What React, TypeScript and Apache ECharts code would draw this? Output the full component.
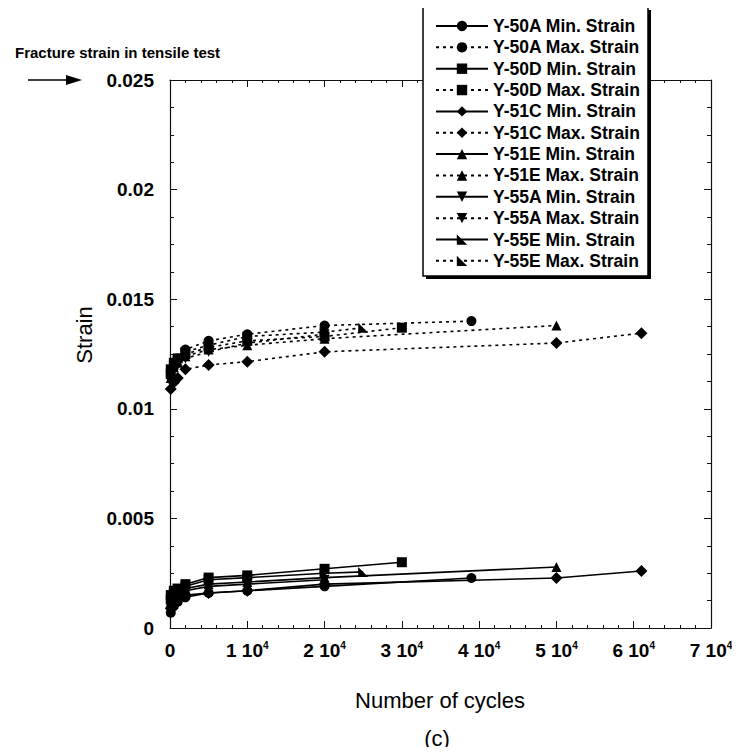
import React, { useEffect, useRef } from "react";
import * as echarts from "echarts";

const cyclesA = [100, 500, 1000, 2000, 5000, 10000, 20000, 39000];
const minA = [0.0007, 0.001, 0.0012, 0.0014, 0.0016, 0.0017, 0.0019, 0.00228];
const maxA = [0.0115, 0.012, 0.0123, 0.0127, 0.0131, 0.0134, 0.0138, 0.014];

const cyclesD = [100, 500, 1000, 2000, 5000, 10000, 20000, 30000];
const minD = [0.0015, 0.0017, 0.0018, 0.002, 0.0023, 0.0024, 0.0027, 0.003];
const maxD = [0.0118, 0.0121, 0.0123, 0.0125, 0.0128, 0.0131, 0.0133, 0.0137];

const cyclesC = [100, 500, 1000, 2000, 5000, 10000, 20000, 50000, 61000];
const minC = [0.0009, 0.0012, 0.0013, 0.0015, 0.0016, 0.0017, 0.002, 0.00228, 0.0026];
const maxC = [0.0109, 0.0112, 0.0114, 0.0118, 0.012, 0.01215, 0.0126, 0.013, 0.01345];

const cyclesE = [100, 500, 1000, 2000, 5000, 10000, 20000, 50000];
const minE = [0.0012, 0.0015, 0.0016, 0.0018, 0.002, 0.0021, 0.0023, 0.00278];
const maxE = [0.0114, 0.0119, 0.0121, 0.0124, 0.0127, 0.0129, 0.0132, 0.0138];

const cycles55A = [100, 500, 1000, 2000, 5000, 10000, 20000];
const min55A = [0.0011, 0.0014, 0.0015, 0.0017, 0.0019, 0.002, 0.0022];
const max55A = [0.0112, 0.0118, 0.012, 0.0123, 0.0126, 0.013, 0.0134];

const cycles55E = [100, 500, 1000, 2000, 5000, 10000, 20000, 25000];
const min55E = [0.0013, 0.0016, 0.0018, 0.0019, 0.0022, 0.0023, 0.0025, 0.00256];
const max55E = [0.0116, 0.012, 0.0122, 0.0126, 0.0129, 0.0133, 0.0135, 0.0137];

const specimens = [
  { id: "Y-50A", cycles: cyclesA, min: minA, max: maxA, symbol: "circle", rotate: 0 },
  { id: "Y-50D", cycles: cyclesD, min: minD, max: maxD, symbol: "rect", rotate: 0 },
  { id: "Y-51C", cycles: cyclesC, min: minC, max: maxC, symbol: "diamond", rotate: 0 },
  { id: "Y-51E", cycles: cyclesE, min: minE, max: maxE, symbol: "triangle", rotate: 0 },
  { id: "Y-55A", cycles: cycles55A, min: min55A, max: max55A, symbol: "triangle", rotate: 180 },
  { id: "Y-55E", cycles: cycles55E, min: min55E, max: max55E, symbol: "path://M0,0L10,10L0,10Z", rotate: 0 },
];

const FONT = "Liberation Sans, Arial, Helvetica, sans-serif";

export default function App() {
  const ref = useRef<HTMLDivElement>(null);
  useEffect(() => {
    if (!ref.current) return;
    const chart = echarts.init(ref.current, null, { renderer: "svg" });
    const series: any[] = [];
    const legendData: string[] = [];
    specimens.forEach((s) => {
      (["Min", "Max"] as const).forEach((kind) => {
        const name = `${s.id} ${kind}. Strain`;
        legendData.push(name);
        const ys = kind === "Min" ? s.min : s.max;
        series.push({
          name,
          type: "line",
          data: s.cycles.map((c, i) => [c, ys[i]]),
          symbol: s.symbol,
          symbolRotate: s.rotate,
          symbolSize: s.symbol === "diamond" ? 12 : 10,
          showSymbol: true,
          lineStyle: { color: "#000", width: 1.6, type: kind === "Min" ? "solid" : [3, 4] },
          itemStyle: { color: "#000", borderWidth: 0 },
          emphasis: { disabled: true },
          z: 3,
        });
      });
    });

    const axisLineStyle = { color: "#111", width: 1.2 };
    const tickStyle = { color: "#111", width: 1 };
    const xCommon = {
      type: "value",
      min: 0,
      max: 70000,
      interval: 10000,
      axisLine: { show: true, onZero: false, lineStyle: axisLineStyle },
      axisTick: { show: true, inside: true, length: 7, lineStyle: tickStyle },
      minorTick: { show: true, splitNumber: 5, length: 3, lineStyle: tickStyle },
      splitLine: { show: false },
    };
    const yCommon = {
      type: "value",
      min: 0,
      max: 0.025,
      interval: 0.005,
      axisLine: { show: true, onZero: false, lineStyle: axisLineStyle },
      axisTick: { show: true, inside: true, length: 7, lineStyle: tickStyle },
      minorTick: { show: true, splitNumber: 4, length: 4, lineStyle: tickStyle },
      splitLine: { show: false },
    };

    chart.setOption({
      animation: false,
      backgroundColor: "#fff",
      grid: { left: 170, right: 29, top: 80, bottom: 127, containLabel: false },
      xAxis: [
        {
          ...xCommon,
          position: "bottom",
          axisLabel: {
            margin: 12,
            color: "#000",
            formatter: (v: number) =>
              v === 0 ? "{n|0}" : `{n|${v / 10000} 10}{s|4}`,
            rich: {
              n: { fontSize: 19, fontWeight: "bold", fontFamily: FONT, color: "#000", lineHeight: 20 },
              s: { fontSize: 10, fontWeight: "bold", fontFamily: FONT, color: "#000", verticalAlign: "top", lineHeight: 10 },
            },
          },
        },
        { ...xCommon, position: "top", axisLabel: { show: false } },
      ],
      yAxis: [
        {
          ...yCommon,
          position: "left",
          axisLabel: {
            margin: 16,
            color: "#000",
            fontSize: 19,
            fontWeight: "bold",
            fontFamily: FONT,
            formatter: (v: number) => String(parseFloat(v.toFixed(4))),
          },
        },
        { ...yCommon, position: "right", axisLabel: { show: false } },
      ],
      legend: {
        data: legendData,
        orient: "vertical",
        left: 435,
        top: 17,
        padding: 0,
        itemWidth: 52,
        itemHeight: 13,
        itemGap: 3.35,
        selectedMode: false,
        textStyle: { fontSize: 17.5, fontWeight: "bold", fontFamily: FONT, color: "#000", lineHeight: 17, padding: [0, 0, 0, 0] },
        z: 10,
      },
      graphic: [
        { type: "rect", z: 5, shape: { x: 426, y: 10, width: 225, height: 269 }, style: { fill: "#000" } },
        { type: "rect", z: 6, shape: { x: 423, y: 7, width: 225, height: 269 }, style: { fill: "#fff", stroke: "#000", lineWidth: 1.5 } },
        {
          type: "text",
          left: 15,
          top: 45,
          style: { text: "Fracture strain in tensile test", fontSize: 15, fontWeight: "bold", fontFamily: FONT, fill: "#000" },
        },
        { type: "line", shape: { x1: 28, y1: 80, x2: 70, y2: 80 }, style: { stroke: "#000", lineWidth: 1.5 } },
        { type: "polygon", shape: { points: [[66, 75], [82, 80], [66, 85]] }, style: { fill: "#000" } },
        {
          type: "text",
          x: 440,
          y: 700,
          style: { text: "Number of cycles", fontSize: 22, fontFamily: FONT, fill: "#000", align: "center", verticalAlign: "middle" },
        },
        {
          type: "text",
          x: 437,
          y: 738,
          style: { text: "(c)", fontSize: 22, fontFamily: FONT, fill: "#000", align: "center", verticalAlign: "middle" },
        },
        {
          type: "text",
          x: 95,
          y: 335,
          rotation: Math.PI / 2,
          style: { text: "Strain", fontSize: 22, fontFamily: FONT, fill: "#000", align: "center", verticalAlign: "bottom" },
        },
      ],
      series,
    });
    return () => chart.dispose();
  }, []);
  return <div ref={ref} style={{ width: 740, height: 755, margin: -8 }} />;
}
